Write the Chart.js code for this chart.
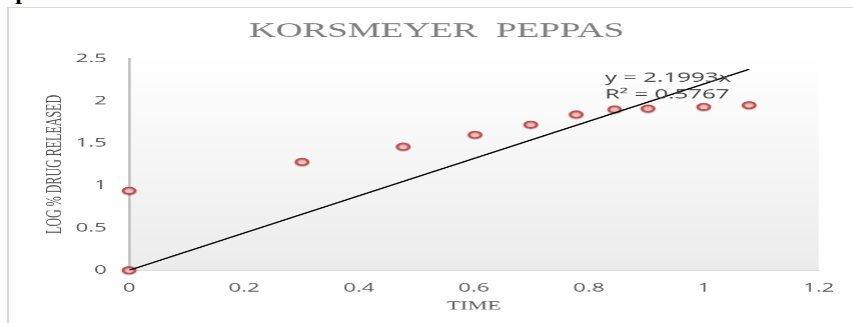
<!DOCTYPE html>
<html>
<head>
<meta charset="utf-8">
<script src="https://cdn.jsdelivr.net/npm/chart.js@4/dist/chart.umd.min.js"></script>
<style>
  html, body { margin: 0; padding: 0; background: #fff; width: 853px; height: 323px; overflow: hidden; }
  #heading { position: absolute; left: 0; top: -13.5px; font: bold 16px 'Liberation Serif', serif; line-height: 16px;
             transform: scaleX(1.5); transform-origin: 0 0; color: #000; white-space: nowrap; }
  #frame { position: absolute; left: 7px; top: 7px; width: 900px; height: 400px;
           border-left: 2px solid #d9d9d9; border-top: 1px solid #d9d9d9; }
  /* the chart is laid out narrow and widened horizontally */
  #stretch { position: absolute; left: 0; top: 0; width: 461px; height: 323px;
             transform: scaleX(1.85); transform-origin: 0 0; }
</style>
</head>
<body>
<div id="heading">s plot</div>
<div id="frame"></div>
<div id="stretch"><canvas id="c" width="461" height="323"></canvas></div>
<script>
// log time vs log % drug released
const logTime    = [0, 0, 0.301, 0.477, 0.602, 0.699, 0.778, 0.845, 0.903, 1.0, 1.079];
const logRelease = [0, 0.94, 1.28, 1.46, 1.60, 1.72, 1.84, 1.90, 1.91, 1.93, 1.95];

// linear trendline through the origin
const slope = 2.1993;
const rSquared = 0.5767;

const xTickLabels = ['0', '0.2', '0.4', '0.6', '0.8', '1', '1.2'];
const yTickLabels = ['0', '0.5', '1', '1.5', '2', '2.5'];

const chartTitle = 'KORSMEYER  PEPPAS';
const xTitle = 'TIME';
const yTitle = 'LOG % DRUG RELEASED';

const points = logTime.map((x, i) => ({ x, y: logRelease[i] }));
const xEnd = Math.max(...logTime);
const trend = [{ x: 0, y: 0 }, { x: xEnd, y: slope * xEnd }];

const tickFont = { family: "'Open Sans'", size: 12 };
const tickColor = '#595959';

const plotBackground = {
  id: 'plotBackground',
  beforeDraw(chart) {
    const { ctx, chartArea: { left, top, right, bottom } } = chart;
    const g = ctx.createLinearGradient(0, top, 0, bottom);
    g.addColorStop(0, '#ffffff');
    g.addColorStop(1, '#ececec');
    ctx.save();
    ctx.fillStyle = g;
    ctx.fillRect(left, top, right - left, bottom - top);
    ctx.restore();
  }
};

const markerShadow = {
  id: 'markerShadow',
  beforeDatasetDraw(chart, args) {
    if (args.index !== 1) return;
    const ctx = chart.ctx;
    ctx.save();
    ctx.shadowColor = 'rgba(0,0,0,0.28)';
    ctx.shadowBlur = 2;
    ctx.shadowOffsetY = 1.5;
  },
  afterDatasetDraw(chart, args) {
    if (args.index !== 1) return;
    chart.ctx.restore();
  }
};

const texts = {
  id: 'texts',
  afterDraw(chart) {
    const { ctx, chartArea } = chart;
    ctx.save();
    // chart title
    ctx.font = "20px 'Liberation Serif'";
    ctx.fillStyle = '#7f7f7f';
    ctx.textAlign = 'center';
    ctx.textBaseline = 'alphabetic';
    ctx.fillText(chartTitle, 235.8, 36.6);
    // trendline equation
    ctx.font = "13px 'Open Sans'";
    ctx.fillStyle = '#404040';
    ctx.textAlign = 'left';
    const ex = chartArea.left + 256.9;
    ctx.fillText('y = ' + slope + 'x', ex, 81.7);
    ctx.fillText('R\u00B2 = ' + rSquared, ex, 98.3);
    ctx.restore();
  }
};

new Chart(document.getElementById('c'), {
  type: 'scatter',
  data: {
    datasets: [
      {
        type: 'line',
        data: trend,
        order: 0,
        borderColor: '#000000',
        borderWidth: 1.25,
        pointRadius: 0,
        fill: false,
        tension: 0
      },
      {
        data: points,
        order: 1,
        clip: false,
        pointRadius: 3.25,
        pointBorderWidth: 1.5,
        backgroundColor: '#f6bdbc',
        borderColor: '#c0504d'
      }
    ]
  },
  options: {
    responsive: false,
    devicePixelRatio: 1.85,
    animation: false,
    layout: { padding: { left: 0, right: 15.6, top: 58.5, bottom: 0 } },
    plugins: { legend: { display: false }, tooltip: { enabled: false }, title: { display: false } },
    scales: {
      x: {
        type: 'linear',
        min: 0, max: 1.2,
        afterFit(s) { s.height = 53; },
        grid: { display: false, drawTicks: false },
        border: { display: true, color: '#d9d9d9', width: 1 },
        ticks: {
          stepSize: 0.2,
          padding: 10.5,
          color: tickColor,
          font: tickFont,
          callback: (v, i) => xTickLabels[i]
        },
        title: {
          display: true,
          text: xTitle,
          color: tickColor,
          font: { family: "'Liberation Serif'", size: 12 },
          padding: { top: 0, bottom: 9.8 }
        }
      },
      y: {
        type: 'linear',
        min: 0, max: 2.5,
        afterFit(s) { s.width = 69.73; },
        grid: { display: false, drawTicks: false },
        border: { display: true, color: '#bfbfbf', width: 1.4 },
        ticks: {
          stepSize: 0.5,
          padding: 12,
          color: tickColor,
          font: tickFont,
          callback: (v, i) => yTickLabels[i]
        },
        title: {
          display: true,
          text: yTitle,
          color: tickColor,
          font: { family: "'Liberation Serif'", size: 12 },
          padding: { top: 22.8, bottom: 0 }
        }
      }
    }
  },
  plugins: [plotBackground, markerShadow, texts]
});
</script>
</body>
</html>
